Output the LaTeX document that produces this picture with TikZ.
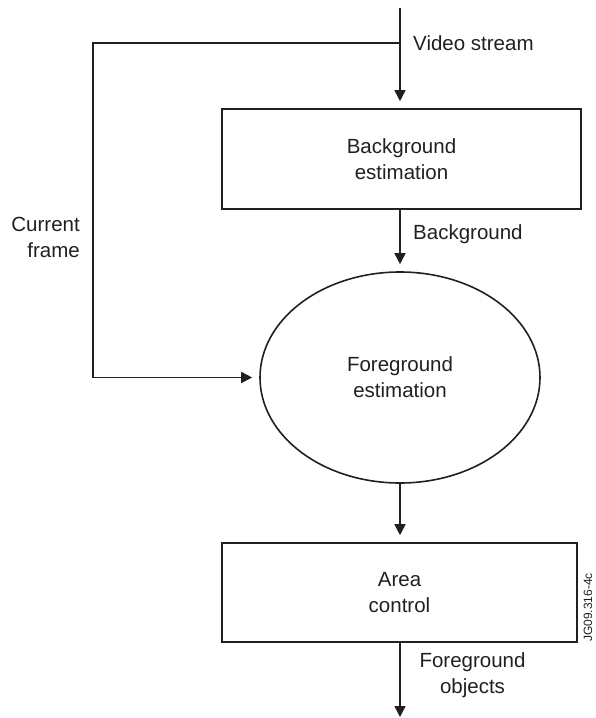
\documentclass[tikz,border=0pt]{standalone}
\usepackage{fontspec}
\setmainfont{Liberation Sans}
\usetikzlibrary{arrows.meta,shapes.geometric}
\definecolor{ink}{HTML}{231F20}
\begin{document}
\begin{tikzpicture}[x=1pt,y=-1pt,
  every node/.style={text=ink},
  lbl/.style={font=\fontsize{20.5}{26}\selectfont, align=center, inner sep=0pt},
  boxnode/.style={draw=ink, line width=1.6pt, rectangle, lbl},
  ellnode/.style={draw=ink, line width=1.6pt, ellipse, lbl, inner sep=0pt},
  conn/.style={draw=ink, line width=1.6pt},
  arr/.style={conn, -{Triangle[length=11pt,width=11pt]}, shorten >=7pt}]
\useasboundingbox (0,0) rectangle (596,718);
\node[boxnode, minimum width=359pt, minimum height=100pt] (b1) at (401.5,159) {Background\\estimation};
\node[ellnode, minimum width=280pt, minimum height=211pt] (ell) at (400,377.5) {Foreground\\estimation};
\node[boxnode, minimum width=355pt, minimum height=99pt] (b2) at (399.5,592.5) {Area\\control};
\coordinate (top) at (400,8);
\coordinate (br) at (400,43);
\coordinate (cl) at (93,43);
\coordinate (bot) at (400,717);
\draw[arr] (top) -- (top |- b1.north);
\draw[arr] (br) -- (cl) |- (ell.west);
\draw[arr] (b1.south -| top) -- (ell.north);
\draw[arr] (ell.south) -- (b2.north -| top);
\draw[arr, shorten >=0pt] (b2.south -| top) -- (bot);
\node[lbl, anchor=west] (vs) at (413,43) {Video stream};
\node[lbl, anchor=west] (bg) at (413,234) {Background};
\node[lbl, anchor=east, align=right] (cf) at (80,237) {Current\\frame};
\node[lbl] (fo) at (472.5,675) {Foreground\\objects};
\node[font=\fontsize{12}{14}\selectfont, rotate=90, inner sep=0pt] (id) at (588,607.5) {JG09.316-4c};
\end{tikzpicture}
\end{document}
